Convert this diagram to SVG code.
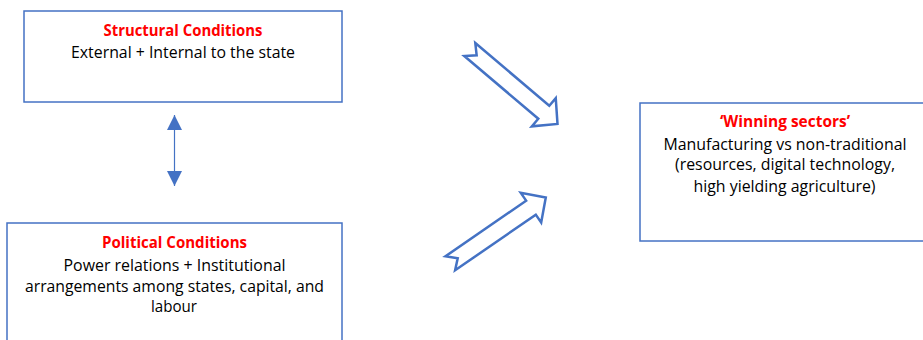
<svg xmlns="http://www.w3.org/2000/svg" width="923" height="340" viewBox="0 0 923 340">
  <style>
    .box { fill: #ffffff; stroke: #4472c4; stroke-width: 1.5; }
    .title { font-family: "Open Sans", Lato, sans-serif; font-size: 16px; font-weight: bold; fill: #ff0000; text-anchor: middle; }
    .body { font-family: "Open Sans", Lato, sans-serif; font-size: 16px; fill: #000000; text-anchor: middle; }
    .block { fill: #ffffff; stroke: #4472c4; stroke-width: 2.5; stroke-linejoin: miter; }
    .link { stroke: #4472c4; stroke-width: 1.2; fill: none; }
  </style>
  <defs>
    <marker id="head" viewBox="0 0 10 10" refX="10" refY="5" markerWidth="15" markerHeight="15" markerUnits="userSpaceOnUse" orient="auto-start-reverse">
      <path d="M0,0 L10,5 L0,10 Z" fill="#4472c4"/>
    </marker>
  </defs>
  <rect width="923" height="340" fill="#ffffff"/>

  <g id="structural">
    <rect class="box" x="24" y="11" width="318" height="91"/>
    <text class="title" x="183" y="36" textLength="159" lengthAdjust="spacingAndGlyphs">Structural Conditions</text>
    <text class="body" x="183" y="58" textLength="224" lengthAdjust="spacingAndGlyphs">External + Internal to the state</text>
  </g>

  <g id="political">
    <rect class="box" x="7" y="223" width="335" height="130"/>
    <text class="title" x="174.5" y="248" textLength="145" lengthAdjust="spacingAndGlyphs">Political Conditions</text>
    <text class="body" x="174.5" y="271" textLength="222" lengthAdjust="spacingAndGlyphs">Power relations + Institutional</text>
    <text class="body" x="174.5" y="292" textLength="299" lengthAdjust="spacingAndGlyphs">arrangements among states, capital, and</text>
    <text class="body" x="174" y="312" textLength="46" lengthAdjust="spacingAndGlyphs">labour</text>
  </g>

  <g id="winning">
    <rect class="box" x="640" y="103" width="290" height="138"/>
    <text class="title" x="785" y="127" textLength="130" lengthAdjust="spacingAndGlyphs">‘Winning sectors’</text>
    <text class="body" x="785" y="150" textLength="243" lengthAdjust="spacingAndGlyphs">Manufacturing vs non-traditional</text>
    <text class="body" x="785" y="170" textLength="220" lengthAdjust="spacingAndGlyphs">(resources, digital technology,</text>
    <text class="body" x="784.5" y="192" textLength="182" lengthAdjust="spacingAndGlyphs">high yielding agriculture)</text>
  </g>

  <g id="connectors">
    <line class="link" x1="174.5" y1="115" x2="174.5" y2="186" marker-start="url(#head)" marker-end="url(#head)"/>
    <path class="block" transform="translate(469.8,49.5) rotate(40.3)" d="M0,-8.5 L97,-8.5 L97,-18.5 L115,0 L97,18.5 L97,8.5 L0,8.5 L9,0 Z"/>
    <path class="block" transform="translate(450.3,263.3) rotate(-34.6)" d="M0,-8.5 L98,-8.5 L98,-18 L116,0 L98,18 L98,8.5 L0,8.5 L9,0 Z"/>
  </g>
</svg>
